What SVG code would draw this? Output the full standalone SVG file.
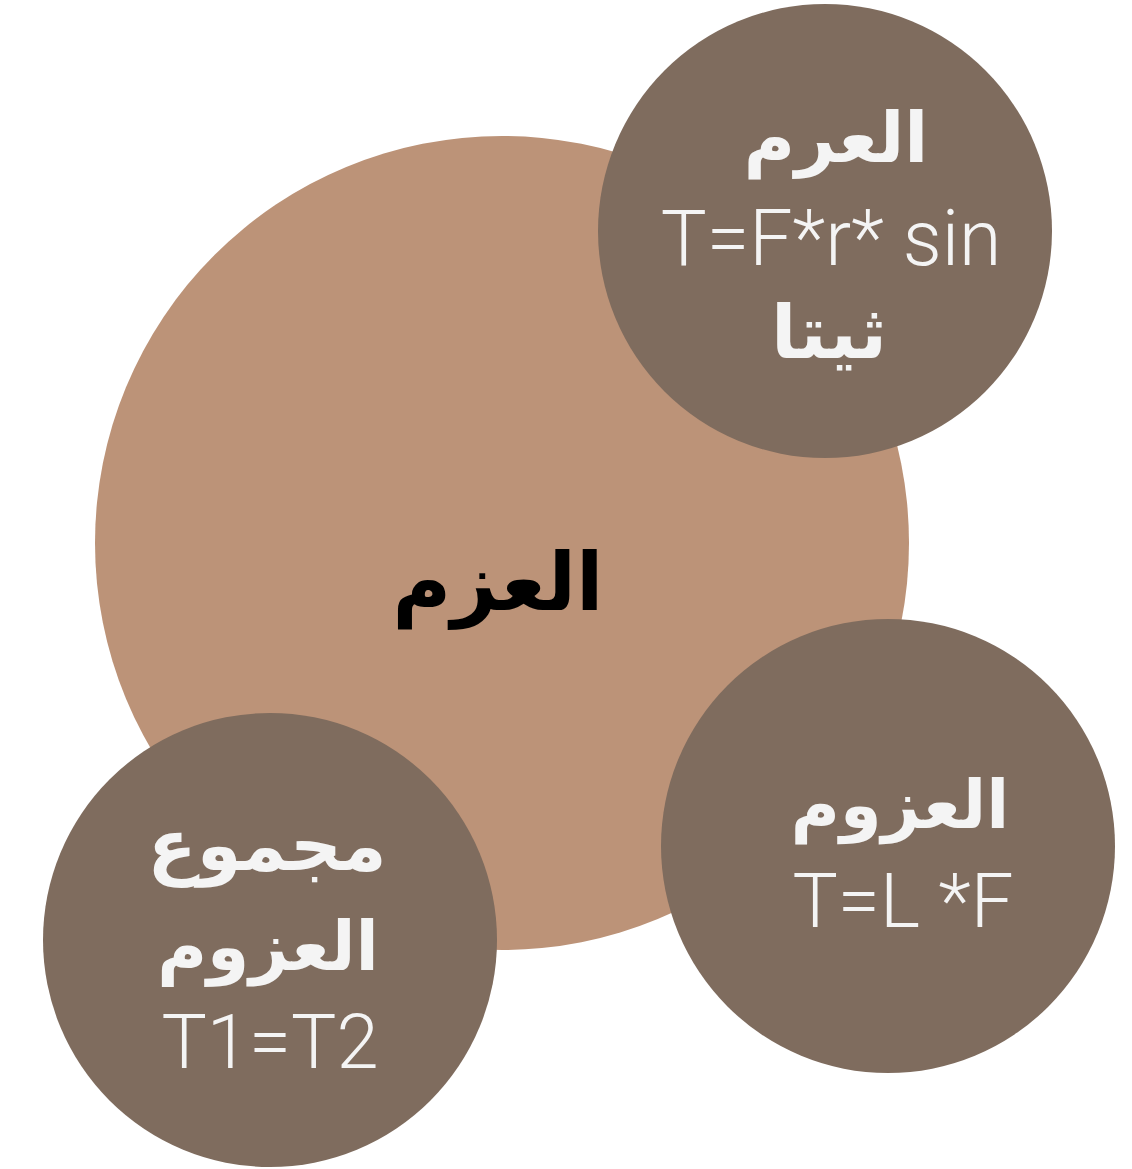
<svg xmlns="http://www.w3.org/2000/svg" width="1132" height="1169" viewBox="0 0 1132 1169">
<style>
.big{fill:#BC9378}
.small{fill:#7F6C5E}
.ar{font-family:"Noto Sans","DejaVu Sans",sans-serif;font-weight:700;text-anchor:middle}
.lat{font-family:Roboto,"Liberation Sans",sans-serif;font-weight:300;text-anchor:middle;fill:#F4F4F4}
.w{fill:#F4F4F4}
</style>
<rect width="1132" height="1169" fill="#FFFFFF"/>
<g id="connectors"></g>
<g id="node-center">
<circle class="big" cx="502" cy="543" r="407"/>
<text class="ar" x="498" y="610" font-size="80" fill="#000">العزم</text>
</g>
<g id="node-top-right">
<circle class="small" cx="825" cy="231" r="227"/>
<text class="ar w" x="836" y="162" font-size="70">العرم</text>
<text class="lat" x="831" y="265" font-size="77">T=F*r* sin</text>
<text class="ar w" x="829" y="358" font-size="74">ثيتا</text>
</g>
<g id="node-bottom-right">
<circle class="small" cx="888" cy="846" r="227"/>
<text class="ar w" x="900" y="828" font-size="67">العزوم</text>
<text class="lat" x="903" y="927" font-size="76">T=L *F</text>
</g>
<g id="node-bottom-left">
<circle class="small" cx="270" cy="940" r="227"/>
<text class="ar w" x="267" y="870" font-size="72">مجموع</text>
<text class="ar w" x="268" y="970" font-size="68">العزوم</text>
<text class="lat" x="270" y="1068" font-size="76">T1=T2</text>
</g>
</svg>
